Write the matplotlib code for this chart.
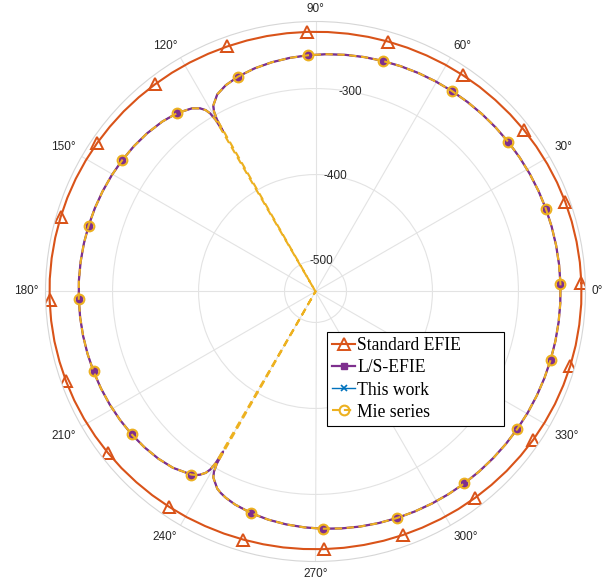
import numpy as np
import matplotlib.pyplot as plt
from matplotlib.transforms import ScaledTranslation

# bistatic RCS [dB], angles in degrees
efie_theta = [1.8, 6.3, 10.8, 15.3, 19.8, 24.3, 28.8, 33.3, 37.8, 42.3,
              46.8, 51.3, 55.8, 60.3, 64.8, 69.3, 73.8, 78.3, 82.8, 87.3,
              91.8, 96.3, 100.8, 105.3, 109.8, 114.3, 118.8, 123.3, 127.8, 132.3,
              136.8, 141.3, 145.8, 150.3, 154.8, 159.3, 163.8, 168.3, 172.8, 177.3,
              181.8, 186.3, 190.8, 195.3, 199.8, 204.3, 208.8, 213.3, 217.8, 222.3,
              226.8, 231.3, 235.8, 240.3, 244.8, 249.3, 253.8, 258.3, 262.8, 267.3,
              271.8, 276.3, 280.8, 285.3, 289.8, 294.3, 298.8, 303.3, 307.8, 312.3,
              316.8, 321.3, 325.8, 330.3, 334.8, 339.3, 343.8, 348.3, 352.8, 357.3]
efie_db = [-226.6, -226.7, -226.9, -227.1, -227.4, -227.8, -228.3, -228.8, -229.3, -229.9,
           -230.5, -231.0, -231.6, -232.1, -232.6, -233.0, -233.3, -233.6, -233.8, -233.9,
           -233.9, -233.8, -233.6, -233.4, -233.1, -232.7, -232.2, -231.7, -231.2, -230.6,
           -230.0, -229.5, -228.9, -228.4, -227.9, -227.5, -227.2, -226.9, -226.7, -226.6,
           -226.6, -226.7, -226.9, -227.3, -227.7, -228.2, -228.8, -229.5, -230.2, -230.9,
           -231.7, -232.4, -233.2, -233.8, -234.5, -235.0, -235.5, -235.8, -236.0, -236.2,
           -236.2, -236.1, -235.9, -235.5, -235.1, -234.6, -234.0, -233.3, -232.6, -231.9,
           -231.1, -230.4, -229.6, -229.0, -228.3, -227.8, -227.3, -227.0, -226.8, -226.6]

theta = [1.8, 6.3, 10.8, 15.3, 19.8, 24.3, 28.8, 33.3, 37.8, 42.3, 46.8, 51.3, 55.8,
         60.3, 64.8, 69.3, 73.8, 78.3, 82.8, 87.3, 91.8, 96.3, 100.8, 105.3, 109.8,
         113.5, 116.5, 118.8, 119.4, 119.8, 120.0, 120.2, 120.6, 121.2, 122.2, 124.0,
         127.8, 132.0, 136.8, 141.3, 145.8, 150.3, 154.8, 159.3, 163.8, 168.3, 172.8, 177.3,
         181.8, 186.3, 190.8, 195.3, 199.8, 204.3, 208.8, 213.3, 217.8, 222.3,
         226.8, 231.0, 235.8,
         237.0, 237.8, 238.8, 239.4, 239.8, 240.0, 240.2, 240.6, 241.2, 243.5,
         244.8, 246.5, 249.3,
         253.8, 258.3, 262.8, 267.3, 271.8, 276.3, 280.8, 285.3, 289.8, 294.3, 298.8, 303.3,
         307.8, 312.3, 316.8, 321.3, 325.8, 330.3, 334.8, 339.3, 343.8, 348.3, 352.8, 357.3]
lsefie_db = [-250.98, -251.01, -251.08, -251.19, -251.33, -251.51, -251.73, -251.99, -252.29,
             -252.63, -253.03, -253.48, -253.98,
             -254.54, -255.17, -255.88, -256.67, -257.56, -258.58, -259.74, -261.08, -262.67,
             -264.60, -267.04, -270.35,
             -274.39, -279.88, -289.27, -295.32, -304.88, -321.0, -304.90, -295.38, -289.38,
             -284.29, -279.06,
             -273.43, -269.94, -267.30, -265.54, -264.21, -263.17, -262.35, -261.72, -261.24,
             -260.89, -260.66, -260.54,
             -260.53, -260.63, -260.83, -261.16, -261.61, -262.21, -262.99, -263.98, -265.25,
             -266.91,
             -269.18, -272.27, -278.64,
             -281.51, -284.29, -289.38, -295.38, -304.90, -321.0, -304.88, -295.32, -289.27,
             -279.88,
             -277.09, -274.39, -271.18,
             -267.61, -265.04, -263.03, -261.38, -259.99, -258.80, -257.76, -256.84, -256.03,
             -255.30, -254.66, -254.08,
             -253.57, -253.11, -252.71, -252.35, -252.04, -251.77, -251.55, -251.36, -251.21,
             -251.10, -251.02, -250.98]
thiswork_db = list(lsefie_db)
mie_db = [v if v > -320 else -536.0 for v in lsefie_db]

r_min, r_max = -536, -222
r_ticks = [-500, -400, -300]
theta_ticks = list(range(0, 360, 30))

c_red = '#D95319'
c_purple = '#7E2F8E'
c_blue = '#0072BD'
c_yellow = '#EDB120'
c_grid = '#e3e3e3'
c_text = '#262626'


def closed(t, v):
    t = np.deg2rad(np.r_[t, t[0]])
    return t, np.r_[v, v[0]]


def on_marker(a):
    k = (a - 1.8) / 18
    return abs(k - round(k)) < 1e-6


marks = [i for i, a in enumerate(theta) if on_marker(a)]
efie_marks = [i for i, a in enumerate(efie_theta) if on_marker(a)]

fig = plt.figure(figsize=(6.15, 5.83), dpi=100)
ax = fig.add_axes([45.5 / 615, 21.5 / 583, 540 / 615, 540 / 583], projection='polar')

t, v = closed(efie_theta, efie_db)
ax.plot(t, v, color=c_red, lw=1.5, marker='^', ms=9, mfc='none', mew=1.4,
        markevery=efie_marks, label='Standard EFIE', zorder=2.0)
t, v = closed(theta, lsefie_db)
ax.plot(t, v, color=c_purple, lw=1.6, marker='s', ms=4.5, mfc=c_purple, mew=1,
        markevery=marks, label='L/S-EFIE', zorder=2.2)
t, v = closed(theta, thiswork_db)
ax.plot(t, v, color=c_blue, lw=1.0, marker='x', ms=4, mew=1.2,
        markevery=marks, label='This work', zorder=2.1)
t, v = closed(theta, mie_db)
ax.plot(t, v, color=c_yellow, lw=1.5, ls=(0, (3.5, 2.2)), marker='o', ms=7, mfc='none',
        mew=1.5, markevery=marks, label='Mie series', zorder=2.3)

ax.set_rlim(r_min, r_max)
ax.set_rgrids(r_ticks, labels=['' for _ in r_ticks])
for rv in r_ticks:
    ax.text(np.deg2rad(80), rv, str(rv), ha='center', va='center', fontsize=8.5,
            color=c_text, family='Liberation Sans')

# angle labels sit just outside the rim, aligned away from the centre (MATLAB style)
ax.set_thetagrids(theta_ticks)
ax.set_xticklabels([])
ax.tick_params(axis='x', length=0)
gap = 0.065
for a in theta_ticks:
    c, s = np.cos(np.deg2rad(a)), np.sin(np.deg2rad(a))
    ha = 'left' if c > 0.1 else ('right' if c < -0.1 else 'center')
    va = 'bottom' if s > 0.1 else ('top' if s < -0.1 else 'center')
    off = ScaledTranslation(gap * c, gap * s, fig.dpi_scale_trans)
    ax.text(np.deg2rad(a), r_max, f'{a}°', ha=ha, va=va, fontsize=8.5, color=c_text,
            family='Liberation Sans', transform=ax.transData + off, clip_on=False)

ax.grid(True, color=c_grid, lw=0.8)
ax.spines['polar'].set_color('#d6d6d6')
ax.spines['polar'].set_linewidth(0.8)

leg = ax.legend(loc='upper left', mode='expand',
                bbox_to_anchor=(327 / 615, (583 - 424) / 583, 177 / 615, 92 / 583),
                bbox_transform=fig.transFigure, prop={'family': 'Liberation Serif', 'size': 12.7},
                frameon=True, fancybox=False, framealpha=1, edgecolor='black',
                borderpad=0.3, labelspacing=0.29, handlelength=1.3, handletextpad=0.1,
                borderaxespad=0)
leg.get_frame().set_linewidth(0.8)

fig.savefig('out.png', dpi=100)
